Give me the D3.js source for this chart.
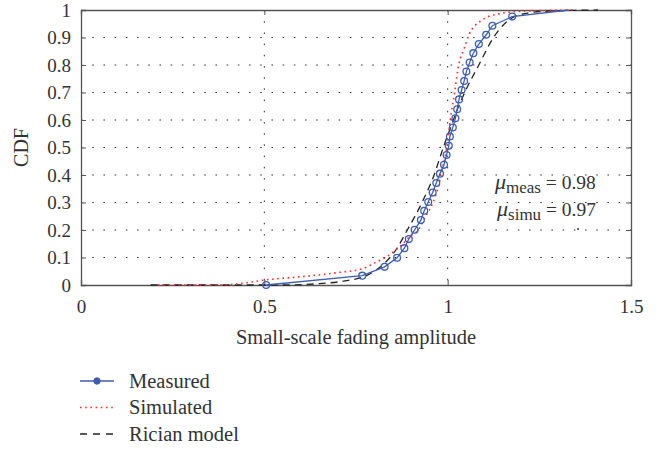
<!DOCTYPE html>
<html>
<head>
<meta charset="utf-8">
<script src="https://cdn.jsdelivr.net/npm/d3@7"></script>
<style>
body{margin:0;background:#fff;}
svg{display:block;}
text{font-family:"Liberation Serif","DejaVu Serif",serif;fill:#333;}
</style>
</head>
<body>
<script>
// values
var measuredX = [0.505,0.767,0.828,0.862,0.882,0.894,0.910,0.927,0.936,0.947,0.959,0.969,0.979,0.990,0.997,
    1.003,1.006,1.014,1.021,1.026,1.031,1.038,1.045,1.051,1.060,1.070,1.085,1.105,1.122,1.176,1.330];
var measuredY = [0,0.034,0.066,0.099,0.134,0.167,0.201,0.236,0.270,0.302,0.336,0.371,0.405,0.437,0.473,
    0.506,0.540,0.573,0.606,0.639,0.675,0.709,0.742,0.776,0.809,0.843,0.876,0.910,0.943,0.976,1.0];

var simulatedX = [0.21,0.38,0.45,0.50,0.60,0.70,0.77,0.80,0.83,0.87,0.90,0.92,0.94,0.96,0.975,0.985,0.995,
    1.000,1.007,1.019,1.030,1.045,1.058,1.090,1.135,1.20,1.35];
var simulatedY = [0,0,0.008,0.018,0.030,0.045,0.060,0.080,0.100,0.140,0.180,0.200,0.250,0.300,0.360,0.420,0.480,
    0.520,0.600,0.700,0.800,0.860,0.910,0.960,0.985,0.995,1.0];

var ricianX = [0.19,0.55,0.65,0.72,0.78,0.82,0.86,0.89,0.93,0.963,0.988,1.01,1.03,1.05,1.085,1.125,1.155,1.19,1.26,1.41];
var ricianY = [0,0,0.005,0.015,0.035,0.070,0.130,0.200,0.300,0.400,0.500,0.580,0.650,0.710,0.800,0.900,0.950,0.980,0.995,1.0];

var xTicks = [0,0.5,1,1.5];
var xTickLabels = ["0","0.5","1","1.5"];
var yTicks = [0,0.1,0.2,0.3,0.4,0.5,0.6,0.7,0.8,0.9,1];
var yTickLabels = ["0","0.1","0.2","0.3","0.4","0.5","0.6","0.7","0.8","0.9","1"];

var seriesNames = ["Measured","Simulated","Rician model"];
var muLabels = [["meas","0.98"],["simu","0.97"]];

var W = 667, H = 449;
// plot box (named so they don't clash with window.top)
var pL = 81, pR = 631, pT = 10, pB = 285;

var x = d3.scaleLinear().domain([0,1.5]).range([pL,pR]);
var y = d3.scaleLinear().domain([0,1]).range([pB,pT]);

var svg = d3.select("body").append("svg").attr("width",W).attr("height",H).attr("viewBox","0,0,"+W+","+H);

// GRID
svg.append("g").selectAll("line").data(xTicks.slice(1,-1)).enter().append("line")
    .attr("x1",d=>x(d)).attr("x2",d=>x(d)).attr("y1",pT).attr("y2",pB)
    .attr("stroke","#333").attr("stroke-width",1).attr("stroke-dasharray","1.6,9.6");
svg.append("g").selectAll("line").data(yTicks.slice(1,-1)).enter().append("line")
    .attr("x1",pL).attr("x2",pR).attr("y1",d=>y(d)).attr("y2",d=>y(d))
    .attr("stroke","#333").attr("stroke-width",1).attr("stroke-dasharray","1.6,9.6");

// AXES (ticks inward, mirrored on top/right)
svg.append("g").attr("transform","translate(0,"+pB+")")
    .call(d3.axisBottom(x).tickValues(xTicks).tickFormat((d,i)=>xTickLabels[i]).tickSize(-5).tickPadding(15));
svg.append("g").attr("transform","translate("+pL+",0)")
    .call(d3.axisLeft(y).tickValues(yTicks).tickFormat((d,i)=>yTickLabels[i]).tickSize(-5).tickPadding(10));
svg.append("g").attr("transform","translate(0,"+pT+")")
    .call(d3.axisTop(x).tickValues(xTicks).tickFormat("").tickSize(-5));
svg.append("g").attr("transform","translate("+pR+",0)")
    .call(d3.axisRight(y).tickValues(yTicks).tickFormat("").tickSize(-5));
svg.selectAll(".domain").attr("stroke","#555").attr("stroke-width",1.3);
svg.selectAll(".tick line").attr("stroke","#555");
svg.selectAll(".tick text").attr("font-family","Liberation Serif").attr("font-size",19).attr("fill","#333");

// SERIES
var line = d3.line().x(d=>x(d[0])).y(d=>y(d[1]));
var smooth = d3.line().x(d=>x(d[0])).y(d=>y(d[1])).curve(d3.curveMonotoneX);

var ricianPts = ricianX.map((v,i)=>[v,ricianY[i]]);
var simPts = simulatedX.map((v,i)=>[v,simulatedY[i]]);
var measPts = measuredX.map((v,i)=>[v,measuredY[i]]);

svg.append("path").attr("d",smooth(ricianPts)).attr("fill","none")
    .attr("stroke","#222").attr("stroke-width",1.3).attr("stroke-dasharray","7,5");
svg.append("path").attr("d",smooth(simPts)).attr("fill","none")
    .attr("stroke","#ff2a2a").attr("stroke-width",1.6).attr("stroke-dasharray","1.6,3.6");
svg.append("path").attr("d",line(measPts)).attr("fill","none")
    .attr("stroke","#3d5db5").attr("stroke-width",1.3);
svg.append("g").selectAll("circle").data(measPts.filter(d=>d[1]<1)).enter().append("circle")
    .attr("cx",d=>x(d[0])).attr("cy",d=>y(d[1])).attr("r",3.4)
    .attr("fill","none").attr("stroke","#3d5db5").attr("stroke-width",1.3);

// AXIS LABELS
svg.append("text").attr("x",(pL+pR)/2).attr("y",344).attr("text-anchor","middle")
    .attr("font-size",20.5).text("Small-scale fading amplitude");
svg.append("text").attr("transform","translate(28,"+((pT+pB)/2)+") rotate(-90)")
    .attr("text-anchor","middle").attr("font-size",20).text("CDF");

// MU ANNOTATION
muLabels.forEach(function(m,i){
    var by = 189 + i*27;
    var t = svg.append("text").attr("x",495 + i*2).attr("y",by).attr("font-size",19.5);
    t.append("tspan").attr("font-style","italic").attr("font-size",22).text("\u03bc");
    t.append("tspan").attr("font-size",17).attr("dy",4).text(m[0]);
    t.append("tspan").attr("dy",-4).text(" = " + m[1]);
});
// stray dot under the annotation
svg.append("circle").attr("cx",578).attr("cy",229).attr("r",1).attr("fill","#333");

// LEGEND
var legend = svg.append("g");
seriesNames.forEach(function(name,i){
    var ly = 381 + i*26.5;
    var l = legend.append("line").attr("x1",80).attr("x2",114).attr("y1",ly).attr("y2",ly);
    if(i==0){
        l.attr("stroke","#3d5db5").attr("stroke-width",1.3);
        legend.append("circle").attr("cx",97).attr("cy",ly).attr("r",3.2)
            .attr("fill","#3d5db5").attr("stroke","#3d5db5");
    } else if(i==1){
        l.attr("stroke","#ff2a2a").attr("stroke-width",1.6).attr("stroke-dasharray","1.6,3.6");
    } else {
        l.attr("stroke","#222").attr("stroke-width",1.3).attr("stroke-dasharray","7,6");
    }
    legend.append("text").attr("x",129).attr("y",ly+6.5).attr("font-size",20.5).text(name);
});
</script>
</body>
</html>
